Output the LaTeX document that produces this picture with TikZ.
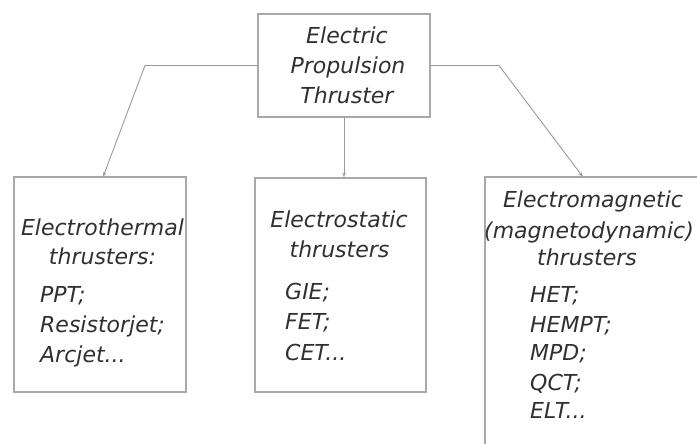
\documentclass[tikz,border=0pt]{standalone}
\usepackage{fontspec}
\setmainfont{DejaVu Sans}
\usetikzlibrary{arrows.meta}
\definecolor{boxline}{HTML}{A8A8A8}
\definecolor{connline}{HTML}{9A9A9A}
\definecolor{txt}{HTML}{303030}
\tikzset{
  box/.style={draw=boxline, line width=1.3pt, rectangle, inner sep=0pt},
  conn/.style={draw=connline, line width=0.9pt, -{Stealth[length=5pt,width=3.5pt]}},
  lbl/.style={inner sep=0pt, text=txt, font=\fontsize{22}{30}\selectfont\itshape},
  head/.style={lbl, anchor=base},
  item/.style={lbl, anchor=base west},
}
\begin{document}
\begin{tikzpicture}[x=1pt,y=-1pt]
\useasboundingbox (0,0) rectangle (697,444);
\clip (0,0) rectangle (697,444);
% boxes
\node[box, minimum width=172pt, minimum height=103pt] (top) at (344,65.5) {};
\node[box, minimum width=172pt, minimum height=215pt] (left) at (100,284.5) {};
\node[box, minimum width=171pt, minimum height=214pt] (mid) at (340.5,285) {};
\node[box, minimum width=260pt, minimum height=300pt] (right) at (615,327) {};
% top text
\node[head] (t1) at (347,44) {Electric};
\node[head] (t2) at (348,74) {Propulsion};
\node[head] (t3) at (347,103) {Thruster};
% left text
\node[head] (l1) at (102.5,235) {Electrothermal};
\node[head] (l2) at (102.5,264) {thrusters:};
\node[item] (l3) at (40,302) {PPT;};
\node[item] (l4) at (40,332) {Resistorjet;};
\node[item] (l5) at (40,362) {Arcjet...};
% middle text
\node[head] (m1) at (339,227) {Electrostatic};
\node[head] (m2) at (339.5,257) {thrusters};
\node[item] (m3) at (285,299) {GIE;};
\node[item] (m4) at (285,329) {FET;};
\node[item] (m5) at (285,360) {CET...};
% right text
\node[head] (r1) at (593,207) {Electromagnetic};
\node[head] (r2) at (589,238) {(magnetodynamic)};
\node[head] (r3) at (587,265) {thrusters};
\node[item] (r4) at (530,302) {HET;};
\node[item] (r5) at (530,332) {HEMPT;};
\node[item] (r6) at (530,360) {MPD;};
\node[item] (r7) at (530,390) {QCT;};
\node[item] (r8) at (530,418) {ELT...};
% connectors
\coordinate (lk) at (145,65.5);
\coordinate (rk) at (499,65.5);
\coordinate (lend) at (103,177);
\coordinate (rend) at (583,177);
\draw[conn] (top.west) -- (lk) -- (lend);
\draw[conn] (top.south) -- (top.south |- mid.north);
\draw[conn] (top.east) -- (rk) -- (rend);
\end{tikzpicture}
\end{document}
